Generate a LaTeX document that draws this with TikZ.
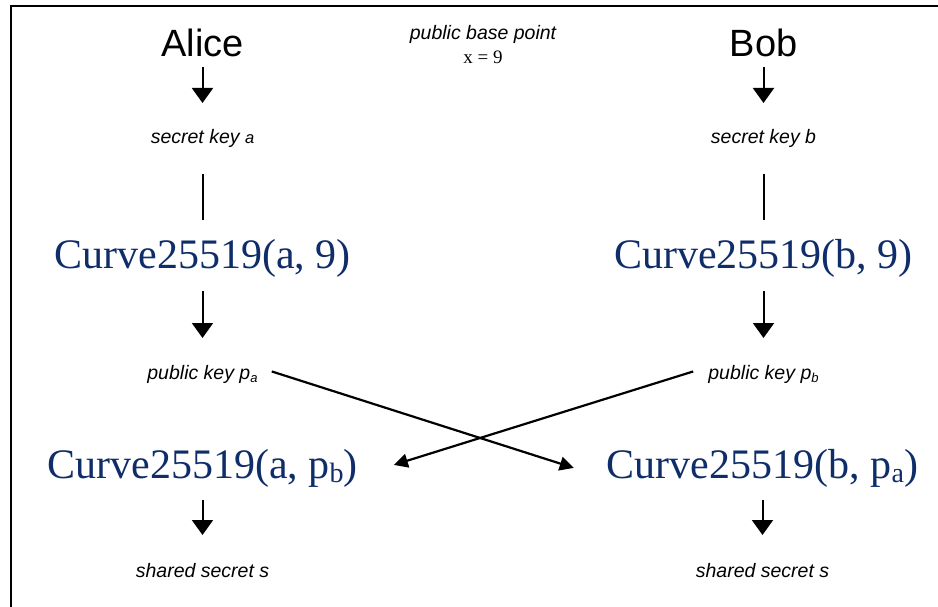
\documentclass[tikz,border=0pt]{standalone}
\usepackage{fontspec}
\setmainfont{Liberation Serif}
\newfontfamily\sansfam{Liberation Sans}
\usetikzlibrary{arrows.meta}
\definecolor{curveblue}{RGB}{15,45,105}

\begin{document}
\begin{tikzpicture}[x=1pt,y=-1pt,
  every node/.style={inner sep=0pt, anchor=base},
  who/.style={font=\sansfam\fontsize{38}{38}\selectfont},
  note/.style={font=\sansfam\itshape\fontsize{19.5}{19.5}\selectfont},
  fn/.style={font=\fontsize{42}{42}\selectfont, text=curveblue},
  flow/.style={line width=2pt, -{Triangle[width=21pt,length=15pt]}},
  link/.style={line width=2pt},
  xarrow/.style={line width=2.2pt, -{Triangle[width=14pt,length=14pt]}},
]
\useasboundingbox (0,0) rectangle (938,607);

% frame edges
\draw[line width=2pt] (11,612) -- (11,6.5) -- (942,6.5);

% parties and the common base point
\node[who] (alice) at (202.5,57) {Alice};
\node[who] (bob) at (763.5,57) {Bob};
\node[note] (bp) at (483,40) {public base point};
\node[font=\fontsize{19}{19}\selectfont] (x9) at (483,64) {x = 9};

% secret keys
\node[note] (ska) at (202.5,144) {secret key {\fontsize{16.5}{16.5}\selectfont a}};
\node[note] (skb) at (763.5,144) {secret key b};

% public key computation
\node[fn] (cva) at (202.5,268) {Curve25519(a, 9)};
\node[fn] (cvb) at (763.5,268) {Curve25519(b, 9)};

% public keys
\node[note] (pka) at (202.5,379) {public key p\raisebox{-3pt}{\fontsize{13}{13}\selectfont a}};
\node[note] (pkb) at (763.5,379) {public key p\raisebox{-3pt}{\fontsize{13}{13}\selectfont b}};

% shared secret computation
\node[fn] (cab) at (202.5,478) {Curve25519(a, p\raisebox{-4pt}{\fontsize{28}{28}\selectfont b})};
\node[fn] (cba) at (762.5,478) {Curve25519(b, p\raisebox{-4pt}{\fontsize{28}{28}\selectfont a})};

% shared secrets
\node[note] (ssa) at (202.5,577) {shared secret s};
\node[note] (ssb) at (762.5,577) {shared secret s};

% Alice's column
\draw[flow] (alice.south |- 0,67) -- (ska.north |- 0,103);
\draw[link] (ska.south |- 0,174) -- (cva.north |- 0,220);
\draw[flow] (cva.south |- 0,291) -- (pka.north |- 0,338);
\draw[flow] (cab.south |- 0,500) -- (ssa.north |- 0,535);

% Bob's column
\draw[flow] (bob.south |- 0,67) -- (skb.north |- 0,103);
\draw[link] (skb.south |- 0,174) -- (cvb.north |- 0,220);
\draw[flow] (cvb.south |- 0,291) -- (pkb.north |- 0,338);
\draw[flow] (cba.south |- 0,500) -- (ssb.north |- 0,535);

% exchange of public keys
\draw[xarrow] ([xshift=14pt,yshift=2.5pt]pka.east) -- ([xshift=-33pt]cba.west);
\draw[xarrow] ([xshift=-15pt,yshift=2.5pt]pkb.west) -- ([xshift=36pt,yshift=3pt]cab.east);
\end{tikzpicture}
\end{document}
